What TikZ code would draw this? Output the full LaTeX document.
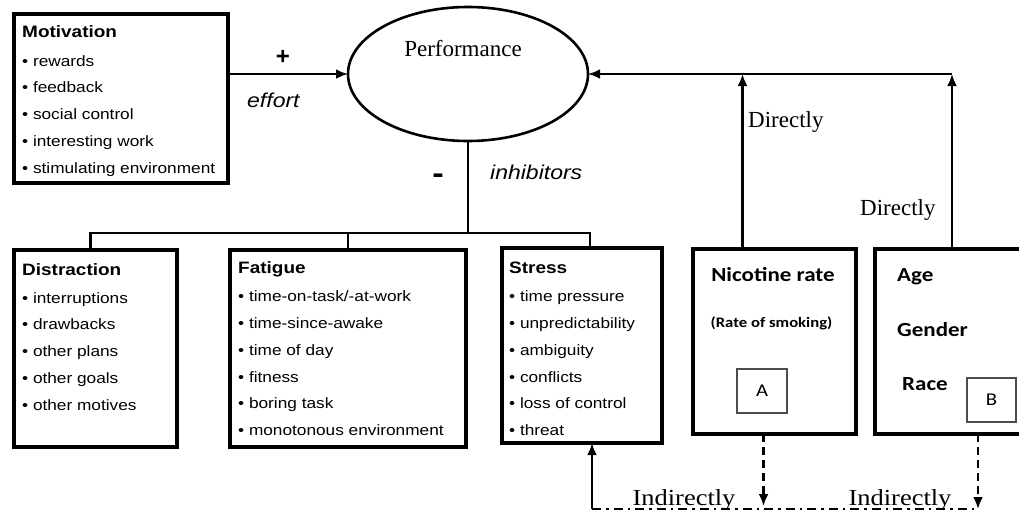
\documentclass[tikz,border=0pt]{standalone}
\usepackage{fontspec}
\setmainfont{Liberation Serif}
\newfontfamily\arialf{Liberation Sans}
\newfontfamily\calf{Carlito}
\usepackage{graphicx}
\usetikzlibrary{shapes.geometric,arrows.meta,calc}
\newcommand\hs[1]{\scalebox{1.15}[1]{#1}}
\tikzset{
 box/.style={draw, line width=3.2pt, rectangle, outer sep=0pt, inner sep=0pt},
 sbox/.style={draw=black!70, line width=1.4pt, rectangle, outer sep=0pt, inner sep=0pt, font=\calf\fontsize{18}{20}\selectfont},
 conn/.style={line width=2.4pt},
 arr/.style={conn, -{Latex[length=12pt,width=10pt]}},
 darr/.style={arr, dash pattern=on 8pt off 5pt},
 ddline/.style={line width=2.2pt, dash pattern=on 9pt off 5pt on 2.5pt off 5pt},
 ttl/.style={font=\arialf\bfseries\fontsize{16.5}{20}\selectfont, anchor=base west, inner sep=0pt},
 itm/.style={font=\arialf\fontsize{15}{18}\selectfont, anchor=base west, inner sep=0pt},
 lbl/.style={font=\arialf\itshape\fontsize{20}{24}\selectfont, anchor=base west, inner sep=0pt},
 sgn/.style={font=\arialf\bfseries\fontsize{24}{26}\selectfont, anchor=base, inner sep=0pt},
 serif/.style={font=\fontsize{23}{26}\selectfont, inner sep=0pt},
 cal/.style={font=\calf\bfseries\fontsize{20}{24}\selectfont, inner sep=0pt},
}
\begin{document}
\begin{tikzpicture}[x=1pt,y=-1pt]
\useasboundingbox (0,0) rectangle (1019,515);
\clip (0,0) rectangle (1019,515);
\fill[white] (0,0) rectangle (1019,515);

% boxes
\node[box, anchor=north west, minimum width=214pt, minimum height=169pt] (mot) at (14,14) {};
\node[draw, ellipse, line width=2.6pt, minimum width=240pt, minimum height=134pt, inner sep=0pt, outer sep=0pt] (perf) at (468,74) {};
\node[box, anchor=north west, minimum width=163pt, minimum height=197pt] (dis) at (14,250) {};
\node[box, anchor=north west, minimum width=236pt, minimum height=197pt] (fat) at (230,250) {};
\node[box, anchor=north west, minimum width=160pt, minimum height=195pt] (str) at (502,248) {};
\node[box, anchor=north west, minimum width=163pt, minimum height=185pt] (nic) at (693,249) {};
\node[box, anchor=north west, minimum width=170pt, minimum height=185pt] (age) at (875,249) {};
\node[sbox, minimum width=50pt, minimum height=44pt] (boxA) at (762,391) {\hs{A}};
\node[sbox, minimum width=49pt, minimum height=44pt] (boxB) at (991.5,400) {\hs{B}};

% texts
\node[serif, anchor=base] (perft) at (463,56) {Performance};

\node[ttl] (motT) at (22,37) {\hs{Motivation}};
\foreach \t [count=\i] in {rewards,feedback,social control,interesting work,stimulating environment}
  \node[itm] (mot\i) at (22,{39.2+26.8*\i}) {\hs{• \t}};

\node[ttl] (disT) at (22,275) {\hs{Distraction}};
\foreach \t [count=\i] in {interruptions,drawbacks,other plans,other goals,other motives}
  \node[itm] (dis\i) at (22,{276.2+26.8*\i}) {\hs{• \t}};

\node[ttl] (fatT) at (238,273) {\hs{Fatigue}};
\foreach \t [count=\i] in {time-on-task/-at-work,time-since-awake,time of day,fitness,boring task,monotonous environment}
  \node[itm] (fat\i) at (238,{274.9+26.8*\i}) {\hs{• \t}};

\node[ttl] (strT) at (509,273) {\hs{Stress}};
\foreach \t [count=\i] in {time pressure,unpredictability,ambiguity,conflicts,loss of control,threat}
  \node[itm] (str\i) at (509,{274.9+26.8*\i}) {\hs{• \t}};

\node[cal, anchor=base] (nicT) at (773,281) {\hs{Nicotine rate}};
\node[cal, anchor=base, font=\calf\bfseries\fontsize{14.5}{16}\selectfont] (nicS) at (771.5,327) {\hs{(Rate of smoking)}};
\node[cal, anchor=base west] (ageT) at (897,281) {\hs{Age}};
\node[cal, anchor=base west] (genT) at (897,336) {\hs{Gender}};
\node[cal, anchor=base west] (racT) at (902,390) {\hs{Race}};

\node[sgn] (plus) at (283,64) {+};
\node[lbl] (eff) at (247,107) {\hs{effort}};
\node[sgn, font=\arialf\bfseries\fontsize{30}{32}\selectfont] (minus) at (438,183) {\hs{-}};
\node[lbl] (inh) at (490,179) {\hs{inhibitors}};

\node[serif, anchor=base west] (dir1) at (748,127) {Directly};
\node[serif, anchor=base west] (dir2) at (860,215) {Directly};
\node[serif, anchor=base] (ind1) at (684,505) {\hs{Indirectly}};
\node[serif, anchor=base] (ind2) at (900,505) {\hs{Indirectly}};

% connectors
\draw[arr] (mot.east |- perf.west) -- (perf.west);
\draw[conn] (perf.south) -- ++(0,92) coordinate (hub);
\draw[conn] ([xshift=-5pt]dis.north) |- (hub) -| ([xshift=8pt]str.north);
\draw[conn] (fat.north) -- (fat.north |- hub);

\coordinate (nt) at ([xshift=-32pt]nic.north);
\coordinate (at) at ([xshift=77pt]age.north west);
\draw[arr] (nt) -- (nt |- perf.east);
\draw[arr] (at) -- (at |- perf.east);
\draw[arr] (at |- perf.east) -- (perf.east);

\coordinate (bly) at (0,509);
\coordinate (tipy) at (0,506);
\coordinate (sb) at ([xshift=10pt]str.south);
\coordinate (bl) at (sb |- bly);
\coordinate (nb) at ([xshift=-11pt]nic.south);
\coordinate (ab) at ([xshift=103pt]age.south west);
\coordinate (br) at (ab |- bly);
\draw[arr] (bl) -- (sb);
\draw[ddline] (bl) -- (br);
\draw[darr] (nb) -- (nb |- tipy);
\draw[darr] (ab) -- (br);
\end{tikzpicture}
\end{document}
